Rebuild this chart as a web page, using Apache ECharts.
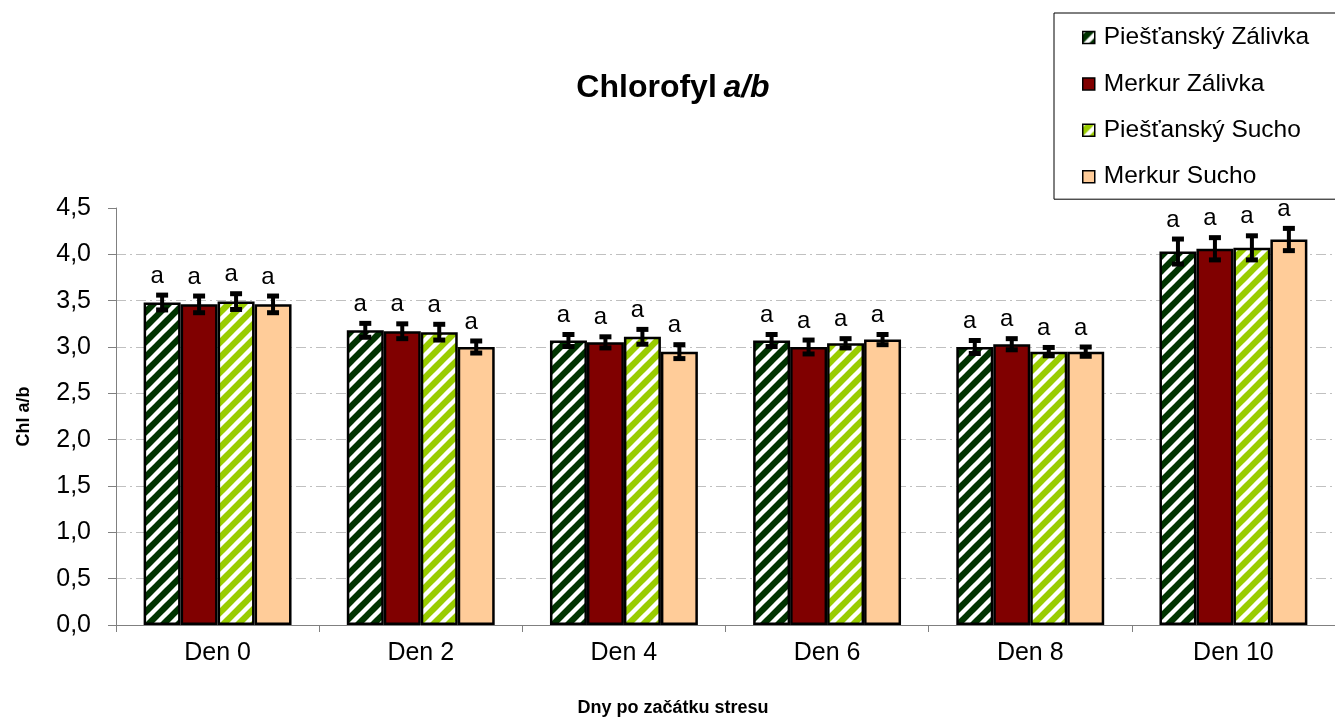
<!DOCTYPE html>
<html>
<head>
<meta charset="utf-8">
<script src="https://cdn.jsdelivr.net/npm/echarts@6/dist/echarts.min.js"></script>
<style>
  html, body { margin: 0; padding: 0; background: #fff; }
  #chart { width: 1335px; height: 722px; }
</style>
</head>
<body>
<div id="chart"></div>
<script>
// Days after stress onset
const categories = ['Den 0', 'Den 2', 'Den 4', 'Den 6', 'Den 8', 'Den 10'];
const seriesNames = ['Piešťanský Zálivka', 'Merkur Zálivka', 'Piešťanský Sucho', 'Merkur Sucho'];

// Chl a/b means
const piestanskyZalivka = [3.48, 3.18, 3.07, 3.07, 3.00, 4.03];
const merkurZalivka     = [3.46, 3.17, 3.05, 3.00, 3.03, 4.06];
const piestanskySucho   = [3.49, 3.16, 3.11, 3.04, 2.95, 4.07];
const merkurSucho       = [3.46, 3.00, 2.95, 3.08, 2.95, 4.16];

// Standard errors
const errPZ = [0.08, 0.075, 0.065, 0.065, 0.07, 0.135];
const errMZ = [0.09, 0.08, 0.06, 0.075, 0.06, 0.12];
const errPS = [0.085, 0.085, 0.08, 0.05, 0.045, 0.13];
const errMS = [0.09, 0.065, 0.075, 0.055, 0.05, 0.12];

// Significance letters
const sigPZ = ['a', 'a', 'a', 'a', 'a', 'a'];
const sigMZ = ['a', 'a', 'a', 'a', 'a', 'a'];
const sigPS = ['a', 'a', 'a', 'a', 'a', 'a'];
const sigMS = ['a', 'a', 'a', 'a', 'a', 'a'];

const yTicks = [0, 0.5, 1.0, 1.5, 2.0, 2.5, 3.0, 3.5, 4.0, 4.5];

const values = [piestanskyZalivka, merkurZalivka, piestanskySucho, merkurSucho];
const errors = [errPZ, errMZ, errPS, errMS];
const letters = [sigPZ, sigMZ, sigPS, sigMS];

const FONT = '"Liberation Sans", Arial, sans-serif';

// Diagonal-stripe fill (upward diagonal, white stripes)
function stripes(base) {
  const P = 15;
  const c = document.createElement('canvas');
  c.width = P; c.height = P;
  const g = c.getContext('2d');
  g.fillStyle = base;
  g.fillRect(0, 0, P, P);
  g.strokeStyle = '#ffffff';
  g.lineWidth = 4.4;
  for (let k = -1; k <= 2; k++) {
    const cc = k * P;
    g.beginPath();
    g.moveTo(cc + P, -P);
    g.lineTo(cc - 2 * P, 2 * P);
    g.stroke();
  }
  return { image: c, repeat: 'repeat' };
}

const fills = [stripes('#003300'), '#800000', stripes('#99cc00'), '#ffcc99'];
const BAR_FRAC = 0.182;

const chart = echarts.init(document.getElementById('chart'), null, { renderer: 'canvas' });

const barSeries = seriesNames.map((name, i) => ({
  name: name,
  type: 'bar',
  data: values[i],
  barWidth: (BAR_FRAC * 100) + '%',
  barGap: '0%',
  itemStyle: { color: fills[i], borderColor: '#000', borderWidth: 2.5 },
  emphasis: { disabled: true },
  z: 2
}));

// error bars + letters
const errData = [];
for (let s = 0; s < values.length; s++) {
  for (let c = 0; c < categories.length; c++) {
    errData.push([c, values[s][c], errors[s][c], s, letters[s][c]]);
  }
}

const errorSeries = {
  type: 'custom',
  name: 'err',
  data: errData,
  z: 5,
  silent: true,
  encode: { x: 0, y: 1 },
  renderItem: function (params, api) {
    const c = api.value(0), v = api.value(1), e = api.value(2), s = api.value(3);
    const band = api.size([1, 0])[0];
    const bw = band * BAR_FRAC;
    const center = api.coord([c, v]);
    const x = center[0] + (s - 1.5) * bw;
    const yTop = api.coord([c, v + e])[1];
    const yBot = api.coord([c, v - e])[1];
    const capW = 12, capH = 5, stem = 4;
    const children = [
      { type: 'rect', shape: { x: x - stem / 2, y: yTop, width: stem, height: yBot - yTop }, style: { fill: '#000' } },
      { type: 'rect', shape: { x: x - capW / 2, y: yTop - capH / 2, width: capW, height: capH }, style: { fill: '#000' } },
      { type: 'rect', shape: { x: x - capW / 2, y: yBot - capH / 2, width: capW, height: capH }, style: { fill: '#000' } },
      { type: 'text', style: { text: errData[params.dataIndex][4], x: x - 5, y: yTop - 19, align: 'center', verticalAlign: 'middle', font: '24px ' + FONT, fill: '#000' } }
    ];
    return { type: 'group', children: children };
  }
};

const gridColors = yTicks.map((t, i) => (i === 0 || i === yTicks.length - 1) ? 'rgba(0,0,0,0)' : '#c0c0c0');

chart.setOption({
  animation: false,
  backgroundColor: '#ffffff',
  grid: { left: 116, top: 208, width: 1229, height: 417, containLabel: false },
  legend: {
    data: seriesNames,
    orient: 'vertical',
    left: 1054,
    top: 13,
    padding: [12, 60, 10, 28],
    itemGap: 21.4,
    itemWidth: 12,
    itemHeight: 12,
    icon: 'rect',
    borderColor: '#000',
    borderWidth: 1,
    backgroundColor: '#fff',
    selectedMode: false,
    itemStyle: { borderColor: '#000', borderWidth: 1.5 },
    textStyle: { fontFamily: FONT, fontSize: 24.5, color: '#000', lineHeight: 20, padding: [0, 0, 0, 4] }
  },
  xAxis: {
    type: 'category',
    data: categories,
    axisLine: { lineStyle: { color: '#808080', width: 1 } },
    axisTick: { show: true, length: 7, alignWithLabel: false, lineStyle: { color: '#808080' } },
    axisLabel: { fontFamily: FONT, fontSize: 25, color: '#000', margin: 16 },
    splitLine: { show: false }
  },
  yAxis: {
    type: 'value',
    min: 0,
    max: 4.5,
    interval: 0.5,
    name: 'Chl a/b',
    nameLocation: 'middle',
    nameRotate: 90,
    nameGap: 83,
    nameTextStyle: { fontFamily: FONT, fontSize: 18, fontWeight: 'bold', color: '#000' },
    axisLine: { show: true, lineStyle: { color: '#808080', width: 1 } },
    axisTick: { show: true, length: 8, lineStyle: { color: '#808080' } },
    axisLabel: {
      fontFamily: FONT, fontSize: 25, color: '#000', margin: 25,
      formatter: v => v.toFixed(1).replace('.', ',')
    },
    splitLine: { show: true, lineStyle: { color: gridColors, width: 1, type: [10, 4, 2, 4] } }
  },
  graphic: [
    {
      type: 'text', x: 673, y: 88,
      style: {
        text: '{n|Chlorofyl}  {i|a/b}',
        align: 'center', verticalAlign: 'middle',
        rich: {
          n: { fontFamily: FONT, fontSize: 32, fontWeight: 'bold', fill: '#000' },
          i: { fontFamily: FONT, fontSize: 32, fontWeight: 'bold', fontStyle: 'italic', fill: '#000' }
        }
      }
    },
    {
      type: 'text', x: 673, y: 708,
      style: { text: 'Dny po začátku stresu', align: 'center', verticalAlign: 'middle', font: 'bold 18px ' + FONT, fill: '#000' }
    }
  ],
  series: barSeries.concat([errorSeries])
});
</script>
</body>
</html>
